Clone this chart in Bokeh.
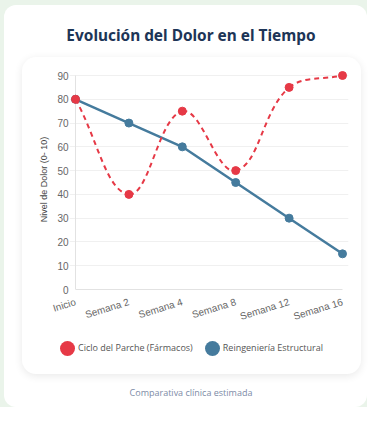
import math
from bokeh.plotting import figure
from bokeh.models import (ColumnDataSource, FixedTicker, Range1d, Div, Column)
from bokeh.embed import file_html
from bokeh.resources import INLINE

# ---------------- data ----------------
categories = ["Inicio", "Semana 2", "Semana 4", "Semana 8", "Semana 12", "Semana 16"]
parche = [80, 40, 75, 50, 85, 90]
estructural = [80, 70, 60, 45, 30, 15]
y_ticks = [0, 10, 20, 30, 40, 50, 60, 70, 80, 90]
series_names = ["Ciclo del Parche (Fármacos)", "Reingeniería Estructural"]
title_text = "Evolución del Dolor en el Tiempo"
y_axis_title = "Nivel de Dolor (0- 10)"
footer_text = "Comparativa clínica estimada"

# ---------------- style ----------------
RED = "#e63946"
BLUE = "#457b9d"
NAVY = "#1d3557"
PAGE_BG = "#eaf4ea"
AXIS_GREY = "#e2e2e2"

# chart figure (top part of the inner card)
W, H = 339, 273
DL, DR, DT, DB = 53, 320, 18, 232   # data area edges inside the figure (px)
PAD = 6                              # room so edge markers are not clipped
YMAX = y_ticks[-1]
NX = len(categories) - 1
kx = (DR - DL) / NX
ky = (DB - DT) / YMAX

p = figure(width=W, height=H, output_backend="svg", toolbar_location=None,
           x_range=Range1d(-PAD / kx, NX + PAD / kx),
           y_range=Range1d(0, YMAX + PAD / ky),
           min_border_left=DL - PAD, min_border_right=W - DR - PAD,
           min_border_top=DT - PAD, min_border_bottom=H - DB)
p.border_fill_color = None
p.background_fill_color = None
p.outline_line_color = None

# axes
p.xaxis.ticker = FixedTicker(ticks=list(range(len(categories))))
p.xaxis.major_label_overrides = {i: c for i, c in enumerate(categories)}
p.xaxis.bounds = (0, NX)
p.xaxis.major_label_orientation = 0.3
p.xaxis.major_tick_out = 0
p.xaxis.major_tick_in = 0
p.xaxis.minor_tick_line_color = None
p.xaxis.axis_line_color = AXIS_GREY
p.xaxis.major_label_text_font = "Liberation Sans"
p.xaxis.major_label_text_font_size = "10px"
p.xaxis.major_label_text_color = "#666666"
p.xaxis.major_label_standoff = 12

p.yaxis.ticker = FixedTicker(ticks=y_ticks)
p.yaxis.axis_line_color = None
p.yaxis.major_tick_line_color = None
p.yaxis.major_tick_out = 0
p.yaxis.major_tick_in = 0
p.yaxis.minor_tick_line_color = None
p.yaxis.minor_tick_out = 0
p.yaxis.major_label_text_font = "Liberation Sans"
p.yaxis.major_label_text_font_size = "10px"
p.yaxis.major_label_text_color = "#666666"
p.yaxis.major_label_standoff = 1
p.yaxis.axis_label = y_axis_title
p.yaxis.axis_label_text_font = "Liberation Sans"
p.yaxis.axis_label_text_font_size = "9px"
p.yaxis.axis_label_text_font_style = "normal"
p.yaxis.axis_label_text_color = "#444444"
p.yaxis.axis_label_standoff = 5

p.xgrid.grid_line_color = None
p.ygrid.grid_line_color = "#f0f0f0"

# y axis line at the first category
p.segment(x0=[0], y0=[y_ticks[0]], x1=[0], y1=[YMAX],
          line_color=AXIS_GREY, line_width=1)

# blue series (straight)
xs = list(range(len(categories)))
src_b = ColumnDataSource(dict(x=xs, y=estructural))
p.line("x", "y", source=src_b, line_color=BLUE, line_width=2.5)
p.scatter("x", "y", source=src_b, size=8, fill_color=BLUE, line_color=BLUE)

# red series: smooth curve (Chart.js tension 0.4 spline), dashed
T = 0.4
pts = [(x * kx, v * ky) for x, v in zip(xs, parche)]
cp_prev, cp_next = [], []
n = len(pts)
for i in range(n):
    cur = pts[i]
    prev = pts[i - 1] if i > 0 else pts[i]
    nxt = pts[i + 1] if i < n - 1 else pts[i]
    d01 = math.dist(cur, prev)
    d12 = math.dist(nxt, cur)
    s01 = d01 / (d01 + d12) if (d01 + d12) else 0
    s12 = d12 / (d01 + d12) if (d01 + d12) else 0
    fa, fb = T * s01, T * s12
    dx, dy = nxt[0] - prev[0], nxt[1] - prev[1]
    cp_prev.append((cur[0] - fa * dx, cur[1] - fa * dy))
    cp_next.append((cur[0] + fb * dx, cur[1] + fb * dy))

def to_data(pt):
    x = min(max(pt[0] / kx, 0), NX)
    y = min(max(pt[1] / ky, 0), YMAX)
    return x, y

bz = dict(x0=[], y0=[], x1=[], y1=[], cx0=[], cy0=[], cx1=[], cy1=[])
for i in range(n - 1):
    c0 = to_data(cp_next[i])
    c1 = to_data(cp_prev[i + 1])
    bz["x0"].append(xs[i]); bz["y0"].append(parche[i])
    bz["x1"].append(xs[i + 1]); bz["y1"].append(parche[i + 1])
    bz["cx0"].append(c0[0]); bz["cy0"].append(c0[1])
    bz["cx1"].append(c1[0]); bz["cy1"].append(c1[1])
p.bezier("x0", "y0", "x1", "y1", "cx0", "cy0", "cx1", "cy1",
         source=ColumnDataSource(bz), line_color=RED, line_width=2,
         line_dash="5 4")
src_r = ColumnDataSource(dict(x=xs, y=parche))
p.scatter("x", "y", source=src_r, size=8, fill_color=RED, line_color=RED)

# legend (HTML row under the chart, inside the inner card)
def legend_item(color, label):
    return ('<span style="display:inline-flex;align-items:center;margin:0 6px;">'
            '<span style="display:inline-block;width:15px;height:15px;'
            'border-radius:50%%;background:%s;margin-right:3px;"></span>'
            '%s</span>' % (color, label))

legend_div = Div(text=('<div style="position:relative;left:-5px;top:-5px;">'
                       + legend_item(RED, series_names[0])
                       + legend_item(BLUE, series_names[1]) + '</div>'),
                 width=W, height=44,
                 styles={"font-family": "Open Sans", "font-size": "9px",
                         "color": "#555555", "text-align": "center",
                         "line-height": "36px"})

inner = Column(children=[p, legend_div], width=W, height=H + 44,
               margin=(0, 0, 0, 18), spacing=0,
               styles={"background-color": "white", "border-radius": "14px",
                       "box-shadow": "0 2px 8px rgba(0,0,0,0.09)"})

# title & footer
title_div = Div(text=title_text, width=352, height=52, margin=(0, 0, 0, 11),
                styles={"font-family": "Noto Sans", "font-weight": "bold",
                        "font-size": "15.4px", "color": NAVY,
                        "text-align": "center", "line-height": "62px"})
footer_div = Div(text=footer_text, width=352, height=33, margin=(0, 0, 0, 11),
                 styles={"font-family": "Open Sans", "font-size": "9px",
                         "color": "#7d8ba6", "text-align": "center",
                         "line-height": "38px"})

card = Column(children=[title_div, inner, footer_div], width=363, height=402,
              margin=(5, 0, 0, 4), spacing=0,
              styles={"background-color": "white", "border-radius": "12px"})
root = Column(children=[card], width=367, height=407,
              styles={"background-color": PAGE_BG})

open("out.html", "w").write(file_html(root, INLINE))
